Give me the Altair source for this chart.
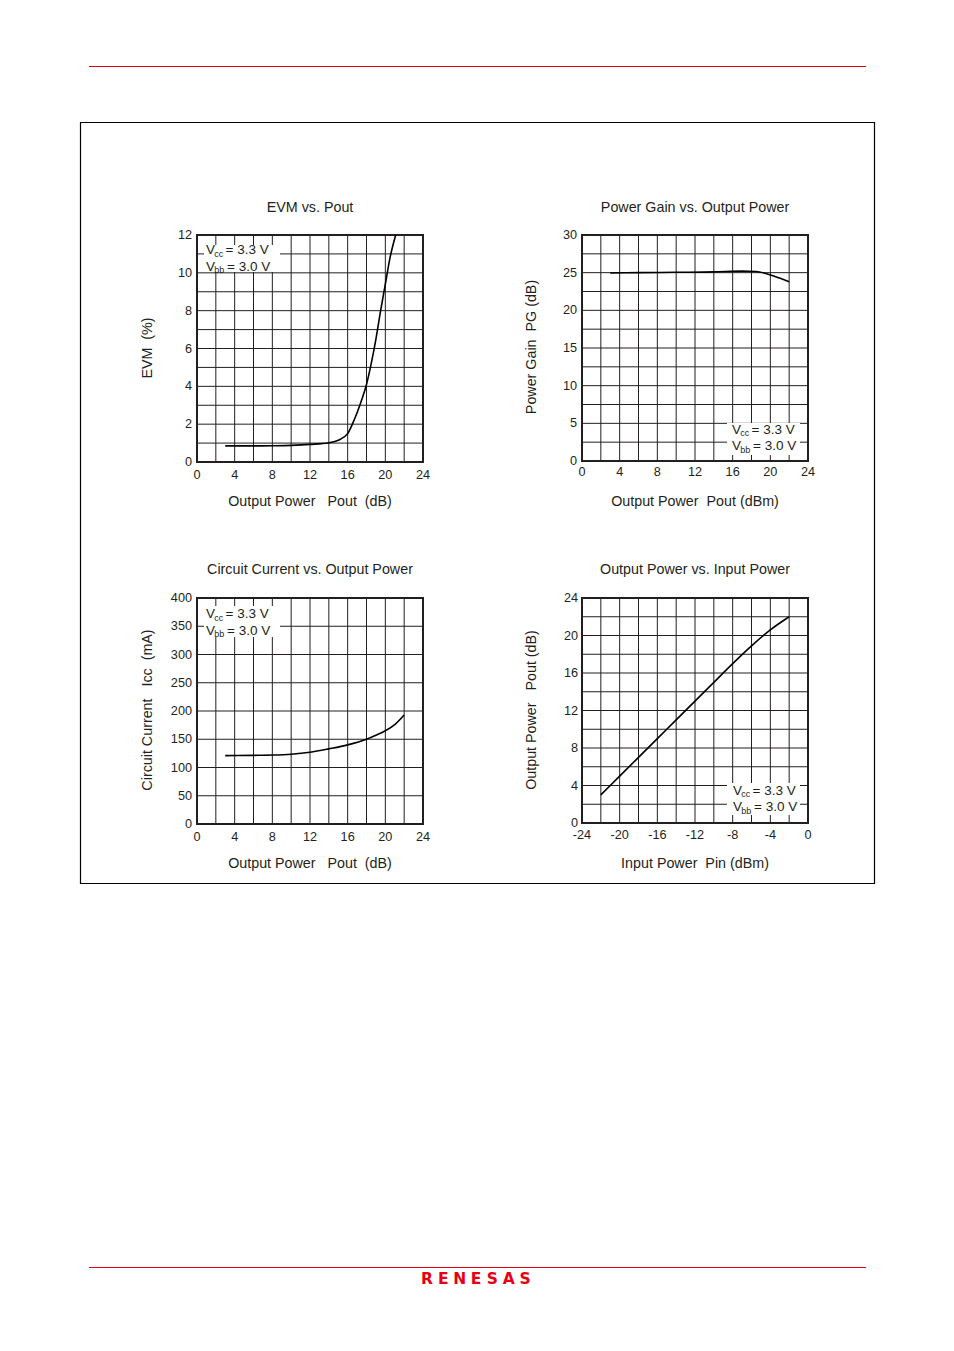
import altair as alt
import pandas as pd

# ---------------- data ----------------
evm_pout = [3, 6, 8, 10, 12, 14, 15, 16, 16.5, 17, 17.5, 18, 18.5, 19, 19.5, 20, 20.5, 21.1]
evm_pct = [0.85, 0.85, 0.86, 0.88, 0.93, 1.02, 1.15, 1.5, 2.0, 2.6, 3.3, 4.1, 5.2, 6.5, 8.0, 9.4, 10.8, 12.0]

pg_pout = [3, 6, 10, 14, 17, 18.5, 19.5, 20.5, 22]
pg_db = [24.95, 25.0, 25.05, 25.1, 25.2, 25.15, 24.9, 24.5, 23.8]

icc_pout = [3, 6, 8, 10, 12, 14, 16, 18, 19, 20, 21, 22]
icc_ma = [121, 121.5, 122, 123.5, 127, 133, 140, 150, 157, 165, 176, 193]

pin_dbm = [-22, -20, -18, -16, -14, -12, -10, -8, -6, -4, -2]
pout_dbm = [3, 5, 7, 9, 11, 13, 15, 17, 18.9, 20.6, 22]

# tick labels
pout_ticks = [0, 4, 8, 12, 16, 20, 24]
evm_ticks = [0, 2, 4, 6, 8, 10, 12]
pg_ticks = [0, 5, 10, 15, 20, 25, 30]
icc_ticks = [0, 50, 100, 150, 200, 250, 300, 350, 400]
pin_ticks = [-24, -20, -16, -12, -8, -4, 0]
outp_ticks = [0, 4, 8, 12, 16, 20, 24]

logo_letters = ["R", "E", "N", "E", "S", "A", "S"]

TXT = "#231f20"
FONT = "Liberation Sans"
RED = "#e60012"
ONE = pd.DataFrame({"k": [0]})
NB = "\u00a0"


def frange(a, b, s):
    out, v = [], a
    while v <= b + 1e-9:
        out.append(round(v, 6))
        v += s
    return out


def vtext(txt, x, y, size=14.3, align="center", angle=0, color=TXT, weight="normal", font=FONT):
    return alt.Chart(ONE).mark_text(
        text=txt, align=align, baseline="middle", fontSize=size, font=font,
        color=color, angle=angle, fontWeight=weight
    ).encode(x=alt.value(x), y=alt.value(y))


def panel(p):
    xs = alt.Scale(domain=p["xd"], range=p["xr"], nice=False, zero=False)
    ys = alt.Scale(domain=p["yd"], range=p["yr"], nice=False, zero=False)

    def X(f):
        return alt.X(f, type="quantitative", scale=xs, axis=None)

    def Y(f):
        return alt.Y(f, type="quantitative", scale=ys, axis=None)

    layers = []
    vg = pd.DataFrame({"v": frange(p["xd"][0], p["xd"][1], p["xg"])})
    vg["a"], vg["b"] = p["yd"][0], p["yd"][1]
    layers.append(alt.Chart(vg).mark_rule(color=TXT, strokeWidth=1).encode(
        x=X("v"), y=Y("a"), y2="b"))
    hg = pd.DataFrame({"v": frange(p["yd"][0], p["yd"][1], p["yg"])})
    hg["a"], hg["b"] = p["xd"][0], p["xd"][1]
    layers.append(alt.Chart(hg).mark_rule(color=TXT, strokeWidth=1).encode(
        y=Y("v"), x=X("a"), x2="b"))
    # legend background
    bx = p["box"]
    layers.append(alt.Chart(ONE).mark_rect(fill="white", strokeWidth=0).encode(
        x=alt.value(bx[0]), x2=alt.value(bx[1]), y=alt.value(bx[2]), y2=alt.value(bx[3])))
    # frame
    fr = pd.DataFrame({"x0": [p["xd"][0]], "x1": [p["xd"][1]], "y0": [p["yd"][0]], "y1": [p["yd"][1]]})
    layers.append(alt.Chart(fr).mark_rect(fillOpacity=0, stroke=TXT, strokeWidth=2).encode(
        x=X("x0"), x2="x1", y=Y("y0"), y2="y1"))
    # curve
    cd = pd.DataFrame({"x": p["cx"], "y": p["cy"]})
    layers.append(alt.Chart(cd).mark_line(color="black", strokeWidth=1.6, interpolate="monotone").encode(
        x=X("x"), y=Y("y")))
    # tick labels
    xt = pd.DataFrame({"v": p["xt"], "t": [str(v) for v in p["xt"]]})
    layers.append(alt.Chart(xt).mark_text(fontSize=12.7, font=FONT, color=TXT, baseline="middle").encode(
        x=X("v"), y=alt.value(p["xty"]), text="t:N"))
    yt = pd.DataFrame({"v": p["yt"], "t": [str(v) for v in p["yt"]]})
    layers.append(alt.Chart(yt).mark_text(fontSize=12.7, font=FONT, color=TXT, baseline="middle", align="right").encode(
        y=Y("v"), x=alt.value(p["ytx"]), text="t:N"))
    # titles
    layers.append(vtext(p["title"], p["cxp"], p["ty"]))
    layers.append(vtext(p["xtitle"], p["cxp"], p["xtitle_y"]))
    layers.append(vtext(p["ytitle"], p["ytitle_x"], p["ytitle_y"], angle=270))
    # legend texts
    x0, y1, y2 = p["leg"]
    layers.append(vtext("V", x0, y1, 13.5, "left"))
    layers.append(vtext("cc", x0 + 8.2, y1 + 3.5, 9, "left"))
    layers.append(vtext("= 3.3 V", x0 + 19.5, y1, 13.5, "left"))
    layers.append(vtext("V", x0, y2, 13.5, "left"))
    layers.append(vtext("bb", x0 + 8.2, y2 + 3.5, 9, "left"))
    layers.append(vtext("= 3.0 V", x0 + 21, y2, 13.5, "left"))
    return layers


panels = [
    dict(xd=[0, 24], yd=[0, 12], xr=[197, 423], yr=[462, 235], xg=2, yg=1,
         cx=evm_pout, cy=evm_pct, xt=pout_ticks, yt=evm_ticks, xty=475, ytx=192,
         title="EVM vs. Pout", cxp=310, ty=208,
         xtitle="Output Power" + NB + NB + " Pout" + NB + " (dB)", xtitle_y=502,
         ytitle="EVM" + NB + " (%)", ytitle_x=148, ytitle_y=348,
         box=[204, 280, 245, 272], leg=[206, 250, 266.5]),
    dict(xd=[0, 24], yd=[0, 30], xr=[582, 808], yr=[461, 235], xg=2, yg=2.5,
         cx=pg_pout, cy=pg_db, xt=pout_ticks, yt=pg_ticks, xty=472, ytx=577,
         title="Power Gain vs. Output Power", cxp=695, ty=208,
         xtitle="Output Power" + NB + " Pout (dBm)", xtitle_y=502,
         ytitle="Power Gain" + NB + " PG (dB)", ytitle_x=532, ytitle_y=347,
         box=[727, 800, 423, 455], leg=[732, 429.5, 446]),
    dict(xd=[0, 24], yd=[0, 400], xr=[197, 423], yr=[824, 598], xg=2, yg=50,
         cx=icc_pout, cy=icc_ma, xt=pout_ticks, yt=icc_ticks, xty=837, ytx=192,
         title="Circuit Current vs. Output Power", cxp=310, ty=570,
         xtitle="Output Power" + NB + NB + " Pout" + NB + " (dB)", xtitle_y=864,
         ytitle="Circuit Current" + NB + NB + " Icc" + NB + " (mA)", ytitle_x=148, ytitle_y=710,
         box=[204, 280, 606, 637], leg=[206, 614, 630.5]),
    dict(xd=[-24, 0], yd=[0, 24], xr=[582, 808], yr=[823, 598], xg=2, yg=2,
         cx=pin_dbm, cy=pout_dbm, xt=pin_ticks, yt=outp_ticks, xty=835, ytx=578,
         title="Output Power vs. Input Power", cxp=695, ty=570,
         xtitle="Input Power" + NB + " Pin (dBm)", xtitle_y=864,
         ytitle="Output Power" + NB + NB + " Pout (dB)", ytitle_x=532, ytitle_y=710,
         box=[727, 800, 783, 815], leg=[733, 790.5, 807]),
]

layers = []
# page decorations
layers.append(alt.Chart(ONE).mark_rule(color=RED, strokeWidth=1).encode(
    x=alt.value(89), x2=alt.value(866), y=alt.value(66.5)))
layers.append(alt.Chart(ONE).mark_rule(color=RED, strokeWidth=1).encode(
    x=alt.value(89), x2=alt.value(866), y=alt.value(1267.5)))
layers.append(alt.Chart(ONE).mark_rect(fillOpacity=0, stroke="black", strokeWidth=1.2).encode(
    x=alt.value(80.5), x2=alt.value(874.5), y=alt.value(122.5), y2=alt.value(883.5)))
logo = pd.DataFrame({"i": list(range(len(logo_letters))), "c": logo_letters})
layers.append(alt.Chart(logo).mark_text(fontSize=15.5, font="DejaVu Sans", fontWeight="bold",
                                        color=RED, baseline="middle").encode(
    x=alt.X("i:O", scale=alt.Scale(type="point", range=[427, 525], padding=0), axis=None),
    y=alt.value(1279), text="c:N"))

for p in panels:
    layers.extend(panel(p))

chart = alt.layer(*layers).properties(
    width=954, height=1351, padding=0,
    autosize=alt.AutoSizeParams(type="none"),
    background="white",
).resolve_scale(x="independent", y="independent").configure_view(stroke=None)

chart.save("out.html", embed_options={"renderer": "svg", "actions": False})
